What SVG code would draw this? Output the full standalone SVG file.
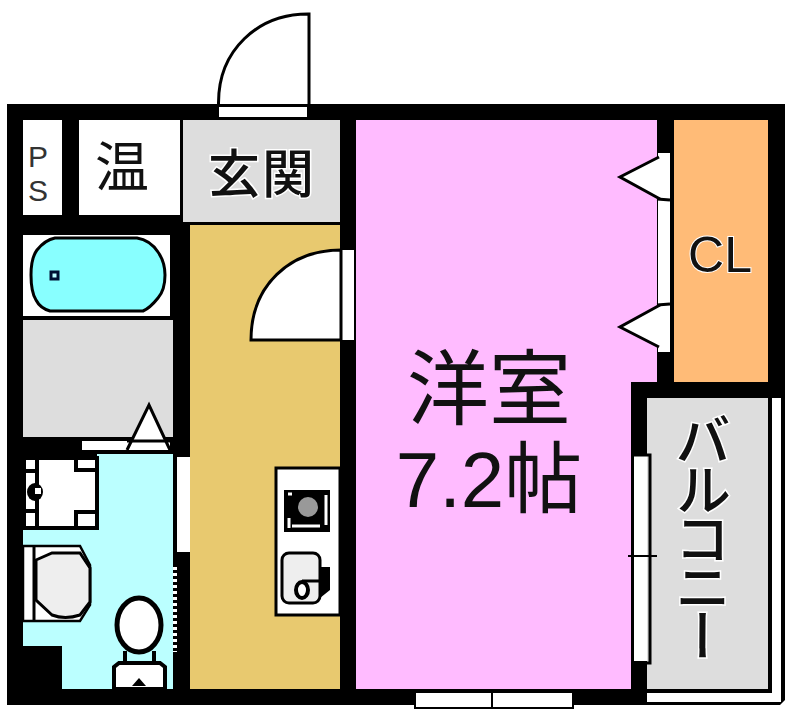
<svg xmlns="http://www.w3.org/2000/svg" width="788" height="710" viewBox="0 0 788 710">
<style>
.l{fill:none;stroke:#000;stroke-width:4}
.t{stroke-width:3}
.w{fill:#fff}
text{font-family:"Noto Sans CJK JP","Noto Sans",sans-serif;fill:#111}
.s{font-family:"Liberation Sans",sans-serif}
.h{paint-order:stroke;stroke:#fff;stroke-width:3px}
</style>
<rect width="788" height="710" fill="#fff"/>
<!-- walls -->
<path d="M7 104H785V700L780 705H7Z" fill="#000"/>
<!-- balcony -->
<rect x="772" y="398" width="9" height="295" class="w"/>
<rect x="647" y="693" width="134" height="9" class="w"/>
<rect x="647" y="398" width="121" height="291" fill="#ddd"/>
<!-- rooms -->
<rect x="23" y="120" width="39" height="95" class="w"/>
<rect x="79" y="120" width="101" height="95" class="w"/>
<rect x="183" y="120" width="157" height="102" fill="#ddd"/>
<rect x="190" y="225" width="150" height="464" fill="#e8c96f"/>
<path d="M356 120H657V382H631V689H356Z" fill="#ffbbff"/>
<rect x="674" y="120" width="94" height="262" fill="#ffbb77"/>
<rect x="23" y="235" width="147" height="81" class="w"/>
<rect x="23" y="320" width="150" height="117" fill="#ddd"/>
<path d="M97 454H173V689H62V646H23V526H97Z" fill="#bbffff"/>
<!-- bathtub -->
<path id="tub" d="M55 238H137Q150 240 158 252Q165 262 165 275Q165 290 158 298Q150 308 143 311H50Q40 308 36 300Q31 292 31 275Q31 258 37 250Q45 240 55 238Z" fill="#88ffff" stroke="#000" stroke-width="3"/>
<rect x="51" y="272" width="7" height="7" fill="#bbffff" stroke="#001133" stroke-width="3"/>
<!-- bath door -->
<rect x="82" y="441" width="88" height="9" class="w"/>
<path d="M127 450L149 405L170 450" class="w" stroke="#000" stroke-width="3"/>
<path d="M127 441H170" class="l t"/>
<rect x="177" y="457" width="13" height="95" class="w"/>
<path d="M175 455V565" class="l"/>
<path d="M175 567V652" fill="none" stroke="#fff" stroke-width="4" stroke-dasharray="3 3"/>
<!-- washbasin -->
<g id="basin">
<rect x="26" y="460" width="71" height="66" class="w"/>
<path d="M23 458H97V528H23" class="l"/>
<path d="M37 460V526M76 460V470H97M76 526V512H97M26 471H37M26 511H37" fill="none" stroke="#000" stroke-width="4"/>
<ellipse cx="35" cy="492" rx="8" ry="9" fill="#000"/>
<rect x="35" y="488" width="6" height="6" class="w"/>
</g>
<!-- washing unit -->
<g id="unit">
<path d="M23 546H80L90 565V605L80 621H23Z" class="w" stroke="#000" stroke-width="2.5"/>
<path d="M34 546V621" class="l t"/>
<path d="M36 560L52 553H80L90 568V602L80 615Q65 620 52 615L36 600Z" fill="#eee" stroke="#000" stroke-width="3"/>
</g>
<!-- toilet -->
<g id="toilet">
<ellipse cx="139" cy="625" rx="22" ry="27" class="w" stroke="#000" stroke-width="5"/>
<path d="M125 651V662M154 651V662" class="l"/>
<path d="M114 689V667L119 663H160L165 667V689Z" class="w" stroke="#000" stroke-width="4"/>
<path d="M132 686L139 678L146 686Z" fill="#000"/>
</g>
<!-- entrance door -->
<path d="M218 104C218 50 258 14 308 14V104Z" class="w"/>
<path d="M218.500 104C218 50 258 14 308 14H309V104" fill="none" stroke="#000" stroke-width="3"/>
<rect x="219" y="107" width="88" height="10" class="w"/>
<!-- inner door -->
<rect x="342" y="250" width="12" height="90" class="w"/>
<path d="M251 340C251 285 290 250 341 250V340Z" class="w" stroke="#000" stroke-width="3"/>
<!-- kitchen -->
<g id="kitchen">
<rect x="276" y="468" width="64" height="147" class="w" stroke="#000" stroke-width="3"/>
<rect x="284" y="490" width="46" height="42" fill="#000"/>
<path d="M288 494H292M326 495V525M292 526H320M289 518V528" stroke="#fff" stroke-width="3"/>
<circle cx="308" cy="507" r="10" fill="#999"/>
<path d="M318 567H330V590L320 598Z" fill="#000"/>
<rect x="282" y="553" width="38" height="50" rx="7" fill="#eee" stroke="#000" stroke-width="3"/>
<ellipse cx="302" cy="590" rx="6" ry="8" fill="#fff" stroke="#000" stroke-width="4"/>
<path d="M302 581H320" stroke="#000" stroke-width="3"/>
</g>
<!-- closet doors -->
<rect x="658" y="153" width="12" height="199" class="w"/>
<path d="M659 157L620 177L660 199" class="w" stroke="#000" stroke-width="3"/>
<path d="M659 347L620 327L660 305" class="w" stroke="#000" stroke-width="3"/>
<path d="M657 199L670 200M657 305L670 304" class="l t"/>
<!-- windows -->
<rect x="634" y="456" width="13" height="205" class="w"/>
<path d="M634 455H650V663H634" class="l t"/>
<path d="M628 556H657" stroke="#000" stroke-width="2"/>
<rect x="415" y="692" width="158" height="16" class="w" stroke="#000" stroke-width="2"/>
<path d="M492 690V708" stroke="#000" stroke-width="2"/>
<!-- labels -->
<text class="s" x="38" y="167" font-size="30" text-anchor="middle" style="fill:#333">P</text>
<text class="s" x="38" y="201" font-size="30" text-anchor="middle" style="fill:#333">S</text>
<text x="122" y="187" font-size="54" text-anchor="middle">温</text>
<text class="h" x="262" y="193" font-size="52" text-anchor="middle" letter-spacing="2" font-weight="500">玄関</text>
<text class="s h" x="720" y="272" font-size="50" text-anchor="middle" style="stroke-width:2px">CL</text>
<text x="489" y="418" font-size="82" text-anchor="middle">洋室</text>
<text x="489" y="507" font-size="78" text-anchor="middle"><tspan class="s">7.2</tspan>帖</text>
<text class="h" x="703" y="412" font-size="56" font-weight="500" style="writing-mode:vertical-rl;text-orientation:upright" letter-spacing="-7">バルコニー</text>
</svg>
